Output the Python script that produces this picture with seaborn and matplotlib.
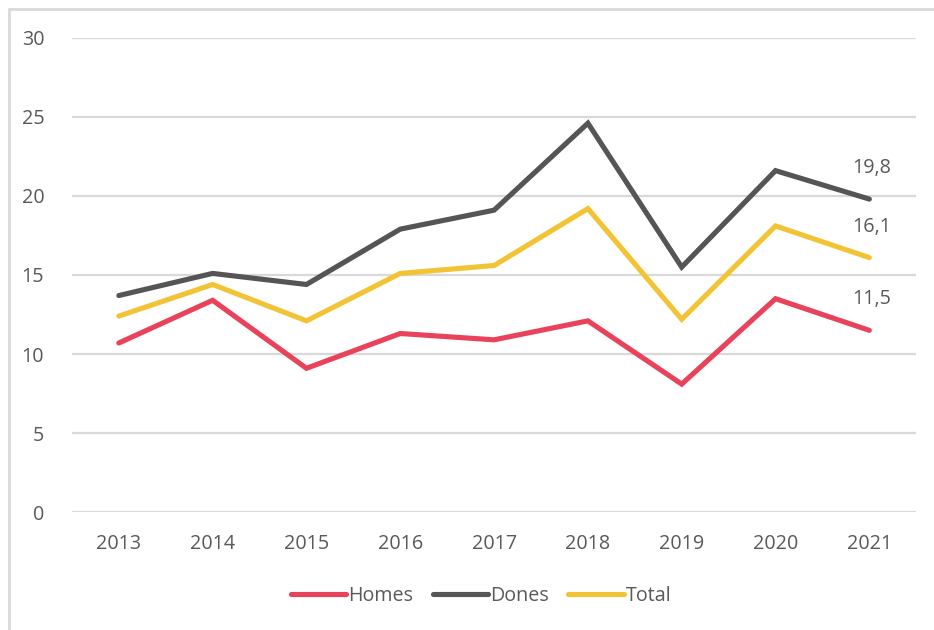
import pandas as pd
import matplotlib.pyplot as plt
import matplotlib.lines as mlines
import seaborn as sns

years = [2013, 2014, 2015, 2016, 2017, 2018, 2019, 2020, 2021]
homes = [10.7, 13.4, 9.1, 11.3, 10.9, 12.1, 8.1, 13.5, 11.5]
dones = [13.7, 15.1, 14.4, 17.9, 19.1, 24.6, 15.5, 21.6, 19.8]
total = [12.4, 14.4, 12.1, 15.1, 15.6, 19.2, 12.2, 18.1, 16.1]

series = ["Homes", "Dones", "Total"]
colors = {"Homes": "#E8435B", "Dones": "#555555", "Total": "#F2C435"}

sns.set_style("white")
plt.rcParams['font.family'] = ['Open Sans', 'DejaVu Sans']

df = pd.DataFrame({"Any": years * 3,
                   "Valor": homes + dones + total,
                   "Serie": ["Homes"] * 9 + ["Dones"] * 9 + ["Total"] * 9})
df["pos"] = df["Any"] - years[0]

fig = plt.figure(figsize=(9.34, 6.30), dpi=100)
ax = fig.add_axes([0.077, 0.187, 0.904, 0.753])

sns.lineplot(data=df, x="pos", y="Valor", hue="Serie", hue_order=series,
             palette=colors, linewidth=3.7, ax=ax, legend=False,
             solid_capstyle="round", solid_joinstyle="miter")

txt = "#595959"
fs = 14.2
ax.set_xlim(-0.5, len(years) - 0.5)
ax.set_ylim(0, 30)
ax.set_yticks(range(0, 31, 5))
ax.set_xticks(range(len(years)))
ax.set_xticklabels([str(y) for y in years])
ax.grid(axis="y", color="#D9D9D9", linewidth=1.6)
ax.set_axisbelow(True)
for s in ax.spines.values():
    s.set_visible(False)
ax.tick_params(axis="both", length=0, labelsize=fs, labelcolor=txt)
ax.tick_params(axis="x", pad=16)
ax.tick_params(axis="y", pad=20)
ax.set_xlabel("")
ax.set_ylabel("")

# last value labels
for vals in (homes, dones, total):
    ax.annotate(f"{vals[-1]:.1f}".replace(".", ","), (len(years) - 1, vals[-1]),
                xytext=(2, 31), textcoords="offset pixels",
                ha="center", va="center", fontsize=fs, color=txt)

handles = [mlines.Line2D([], [], color=colors[s], linewidth=3.7,
                         solid_capstyle="round") for s in series]
fig.legend(handles, series, loc="center", bbox_to_anchor=(0.515, 0.054), ncol=3,
           frameon=False, fontsize=fs, labelcolor=txt, handlelength=2.8,
           handletextpad=0.1, columnspacing=1.0)

# outer chart frame (top and left edges visible)
fig.add_artist(mlines.Line2D([8.5 / 934, 1], [1 - 8.5 / 630] * 2,
                             color="#D9D9D9", linewidth=2))
fig.add_artist(mlines.Line2D([8.5 / 934] * 2, [0, 1 - 8.5 / 630],
                             color="#D9D9D9", linewidth=2))

fig.savefig("out.png", dpi=100)
